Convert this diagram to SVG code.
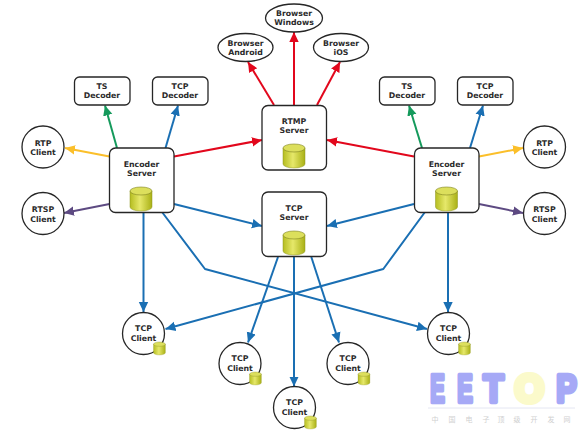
<svg xmlns="http://www.w3.org/2000/svg" width="588" height="432" viewBox="0 0 588 432">
<style>
.s{fill:#fff;stroke:#262626;stroke-width:1.3}
.t{font-family:"DejaVu Sans",sans-serif;font-weight:700;font-size:7.8px;fill:#2b2b2b;text-anchor:middle}
.c{fill:none;stroke-width:2;stroke-linejoin:round}
.red{stroke:#e2071c}.blue{stroke:#1a6fb3}.green{stroke:#159a5c}.yel{stroke:#fbbf2a}.pur{stroke:#5d4a82}
.lg{font-family:"Liberation Sans",sans-serif;font-weight:700;font-size:38.500px;stroke-linejoin:round}
.cn{font-family:"Noto Sans CJK SC",sans-serif;font-size:7px;fill:#d0d0d0;text-anchor:middle}
</style>
<defs>
<linearGradient id="g" x1="0" y1="0" x2="1" y2="0"><stop offset="0" stop-color="#b5bd20"/><stop offset=".45" stop-color="#e6e86a"/><stop offset="1" stop-color="#a9b015"/></linearGradient>
<marker id="mr" markerUnits="userSpaceOnUse" markerWidth="12" markerHeight="12" refX="10" refY="6" orient="auto"><path d="M0 1.300L10 6L0 10.700Z" fill="#e2071c"/></marker>
<marker id="mb" markerUnits="userSpaceOnUse" markerWidth="12" markerHeight="12" refX="10" refY="6" orient="auto"><path d="M0 1.300L10 6L0 10.700Z" fill="#1a6fb3"/></marker>
<marker id="mg" markerUnits="userSpaceOnUse" markerWidth="12" markerHeight="12" refX="10" refY="6" orient="auto"><path d="M0 1.300L10 6L0 10.700Z" fill="#159a5c"/></marker>
<marker id="my" markerUnits="userSpaceOnUse" markerWidth="12" markerHeight="12" refX="10" refY="6" orient="auto"><path d="M0 1.300L10 6L0 10.700Z" fill="#fbbf2a"/></marker>
<marker id="mp" markerUnits="userSpaceOnUse" markerWidth="12" markerHeight="12" refX="10" refY="6" orient="auto"><path d="M0 1.300L10 6L0 10.700Z" fill="#5d4a82"/></marker>
<g id="cyl"><path d="M0 4V20A11 4 0 0 0 22 20V4Z" fill="url(#g)" stroke="#8f9420" stroke-width=".5"/><ellipse cx="11" cy="4" rx="11" ry="4" fill="#dcdf5c" stroke="#7d8220" stroke-width=".6"/></g>
</defs>
<g id="connectors">
<g class="c red" marker-end="url(#mr)">
<path d="M174 156.500L262 140"/><path d="M414 156.500L327 140"/><path d="M274 105L248 62"/><path d="M294 105V32"/><path d="M317 105L340 62"/>
</g>
<g class="c green" marker-end="url(#mg)"><path d="M117 148L105 105.500"/><path d="M422 148L409 105.500"/></g>
<g class="c blue" marker-end="url(#mb)">
<path d="M165.500 148L178 105.500"/><path d="M470 148L483 105.500"/>
<path d="M174 204L262 226"/><path d="M414 204L327 226"/>
<path d="M143.500 212V312"/><path d="M448 212V312"/>
<path d="M162 212L205 269L427 329"/><path d="M425 212L383.300 269L165.500 329"/>
<path d="M278 257L248 342.500"/><path d="M294 257V386.500"/><path d="M311.300 257L339 342.500"/>
</g>
<g class="c yel" marker-end="url(#my)"><path d="M109.500 156.500L65 148"/><path d="M479 156.500L523 148"/></g>
<g class="c pur" marker-end="url(#mp)"><path d="M109.500 204L64 213"/><path d="M479 204L523 213"/></g>
</g>
<g id="browser-android"><ellipse class="s" cx="245.500" cy="47.500" rx="27.500" ry="14"/><text class="t" x="245.500" y="45.700">Browser</text><text class="t" x="245.500" y="55">Android</text></g>
<g id="browser-windows"><ellipse class="s" cx="294" cy="18" rx="28.500" ry="14"/><text class="t" x="294" y="15.700">Browser</text><text class="t" x="294" y="25">Windows</text></g>
<g id="browser-ios"><ellipse class="s" cx="341" cy="47.500" rx="27.500" ry="14"/><text class="t" x="341" y="45.700">Browser</text><text class="t" x="341" y="55">iOS</text></g>
<g id="ts-decoder-l"><rect class="s" x="74.500" y="77" width="55.500" height="28" rx="5"/><text class="t" x="102" y="88.700">TS</text><text class="t" x="102" y="98.300">Decoder</text></g>
<g id="tcp-decoder-l"><rect class="s" x="152.500" y="77" width="55.500" height="28" rx="5"/><text class="t" x="180" y="88.700">TCP</text><text class="t" x="180" y="98.300">Decoder</text></g>
<g id="ts-decoder-r"><rect class="s" x="379.500" y="77" width="55.500" height="28" rx="5"/><text class="t" x="407" y="88.700">TS</text><text class="t" x="407" y="98.300">Decoder</text></g>
<g id="tcp-decoder-r"><rect class="s" x="457.500" y="77" width="55.500" height="28" rx="5"/><text class="t" x="485" y="88.700">TCP</text><text class="t" x="485" y="98.300">Decoder</text></g>
<g id="rtp-client-l"><circle class="s" cx="43" cy="147" r="21"/><text class="t" x="43" y="145.500">RTP</text><text class="t" x="43" y="155">Client</text></g>
<g id="rtsp-client-l"><circle class="s" cx="43" cy="213.500" r="21"/><text class="t" x="43" y="212">RTSP</text><text class="t" x="43" y="221.500">Client</text></g>
<g id="rtp-client-r"><circle class="s" cx="544.500" cy="147" r="21"/><text class="t" x="544.500" y="145.500">RTP</text><text class="t" x="544.500" y="155">Client</text></g>
<g id="rtsp-client-r"><circle class="s" cx="544.500" cy="213.500" r="21"/><text class="t" x="544.500" y="212">RTSP</text><text class="t" x="544.500" y="221.500">Client</text></g>
<g id="encoder-l"><rect class="s" x="109.500" y="148" width="64.500" height="64.500" rx="6"/><text class="t" x="141.500" y="167">Encoder</text><text class="t" x="141.500" y="176">Server</text><use href="#cyl" x="130" y="187"/></g>
<g id="encoder-r"><rect class="s" x="414.500" y="148" width="64.500" height="64.500" rx="6"/><text class="t" x="446.500" y="167">Encoder</text><text class="t" x="446.500" y="176">Server</text><use href="#cyl" x="435.500" y="187"/></g>
<g id="rtmp-server"><rect class="s" x="262" y="105.500" width="64.500" height="64.500" rx="6"/><text class="t" x="294" y="124">RTMP</text><text class="t" x="294" y="133">Server</text><use href="#cyl" x="283" y="144"/></g>
<g id="tcp-server"><rect class="s" x="262" y="192" width="64.500" height="64.500" rx="6"/><text class="t" x="294" y="210.700">TCP</text><text class="t" x="294" y="220">Server</text><use href="#cyl" x="283" y="231"/></g>
<g id="tcp-client-1"><circle class="s" cx="143.500" cy="333.500" r="21"/><text class="t" x="143.500" y="331.300">TCP</text><text class="t" x="143.500" y="340.700">Client</text><use href="#cyl" transform="translate(153.500 342) scale(.54)"/></g>
<g id="tcp-client-2"><circle class="s" cx="240" cy="363.500" r="21"/><text class="t" x="240" y="361.300">TCP</text><text class="t" x="240" y="370.700">Client</text><use href="#cyl" transform="translate(249.500 372) scale(.54)"/></g>
<g id="tcp-client-3"><circle class="s" cx="294.500" cy="407.500" r="21"/><text class="t" x="294.500" y="405.300">TCP</text><text class="t" x="294.500" y="414.700">Client</text><use href="#cyl" transform="translate(304.500 416) scale(.54)"/></g>
<g id="tcp-client-4"><circle class="s" cx="348" cy="363.500" r="21"/><text class="t" x="348" y="361.300">TCP</text><text class="t" x="348" y="370.700">Client</text><use href="#cyl" transform="translate(358 372) scale(.54)"/></g>
<g id="tcp-client-5"><circle class="s" cx="448.500" cy="333.500" r="21"/><text class="t" x="448.500" y="331.300">TCP</text><text class="t" x="448.500" y="340.700">Client</text><use href="#cyl" transform="translate(458.500 342) scale(.54)"/></g>
<g id="logo">
<g fill="#a6a9f6" stroke="#a6a9f6" stroke-width="4.500"><text class="lg" x="430.250" y="401.750" textLength="14.500" lengthAdjust="spacingAndGlyphs">E</text><text class="lg" x="457.250" y="401.750" textLength="15.500" lengthAdjust="spacingAndGlyphs">E</text><text class="lg" x="483.250" y="401.750" textLength="20.500" lengthAdjust="spacingAndGlyphs">T</text><text class="lg" x="556.250" y="401.750" textLength="20.500" lengthAdjust="spacingAndGlyphs">P</text></g>
<text class="lg" x="515" y="401.500" textLength="29" lengthAdjust="spacingAndGlyphs" fill="#fbfacb" stroke="#fbfacb" stroke-width="6">O</text>
<path d="M428 408H575" stroke="#e4e6f2" fill="none"/>
<text class="cn" x="435" y="422">中</text><text class="cn" x="452" y="422">国</text><text class="cn" x="469" y="422">电</text><text class="cn" x="486" y="422">子</text><text class="cn" x="501" y="422">顶</text><text class="cn" x="517" y="422">级</text><text class="cn" x="534" y="422">开</text><text class="cn" x="551" y="422">发</text><text class="cn" x="567" y="422">网</text>
</g>
</svg>
